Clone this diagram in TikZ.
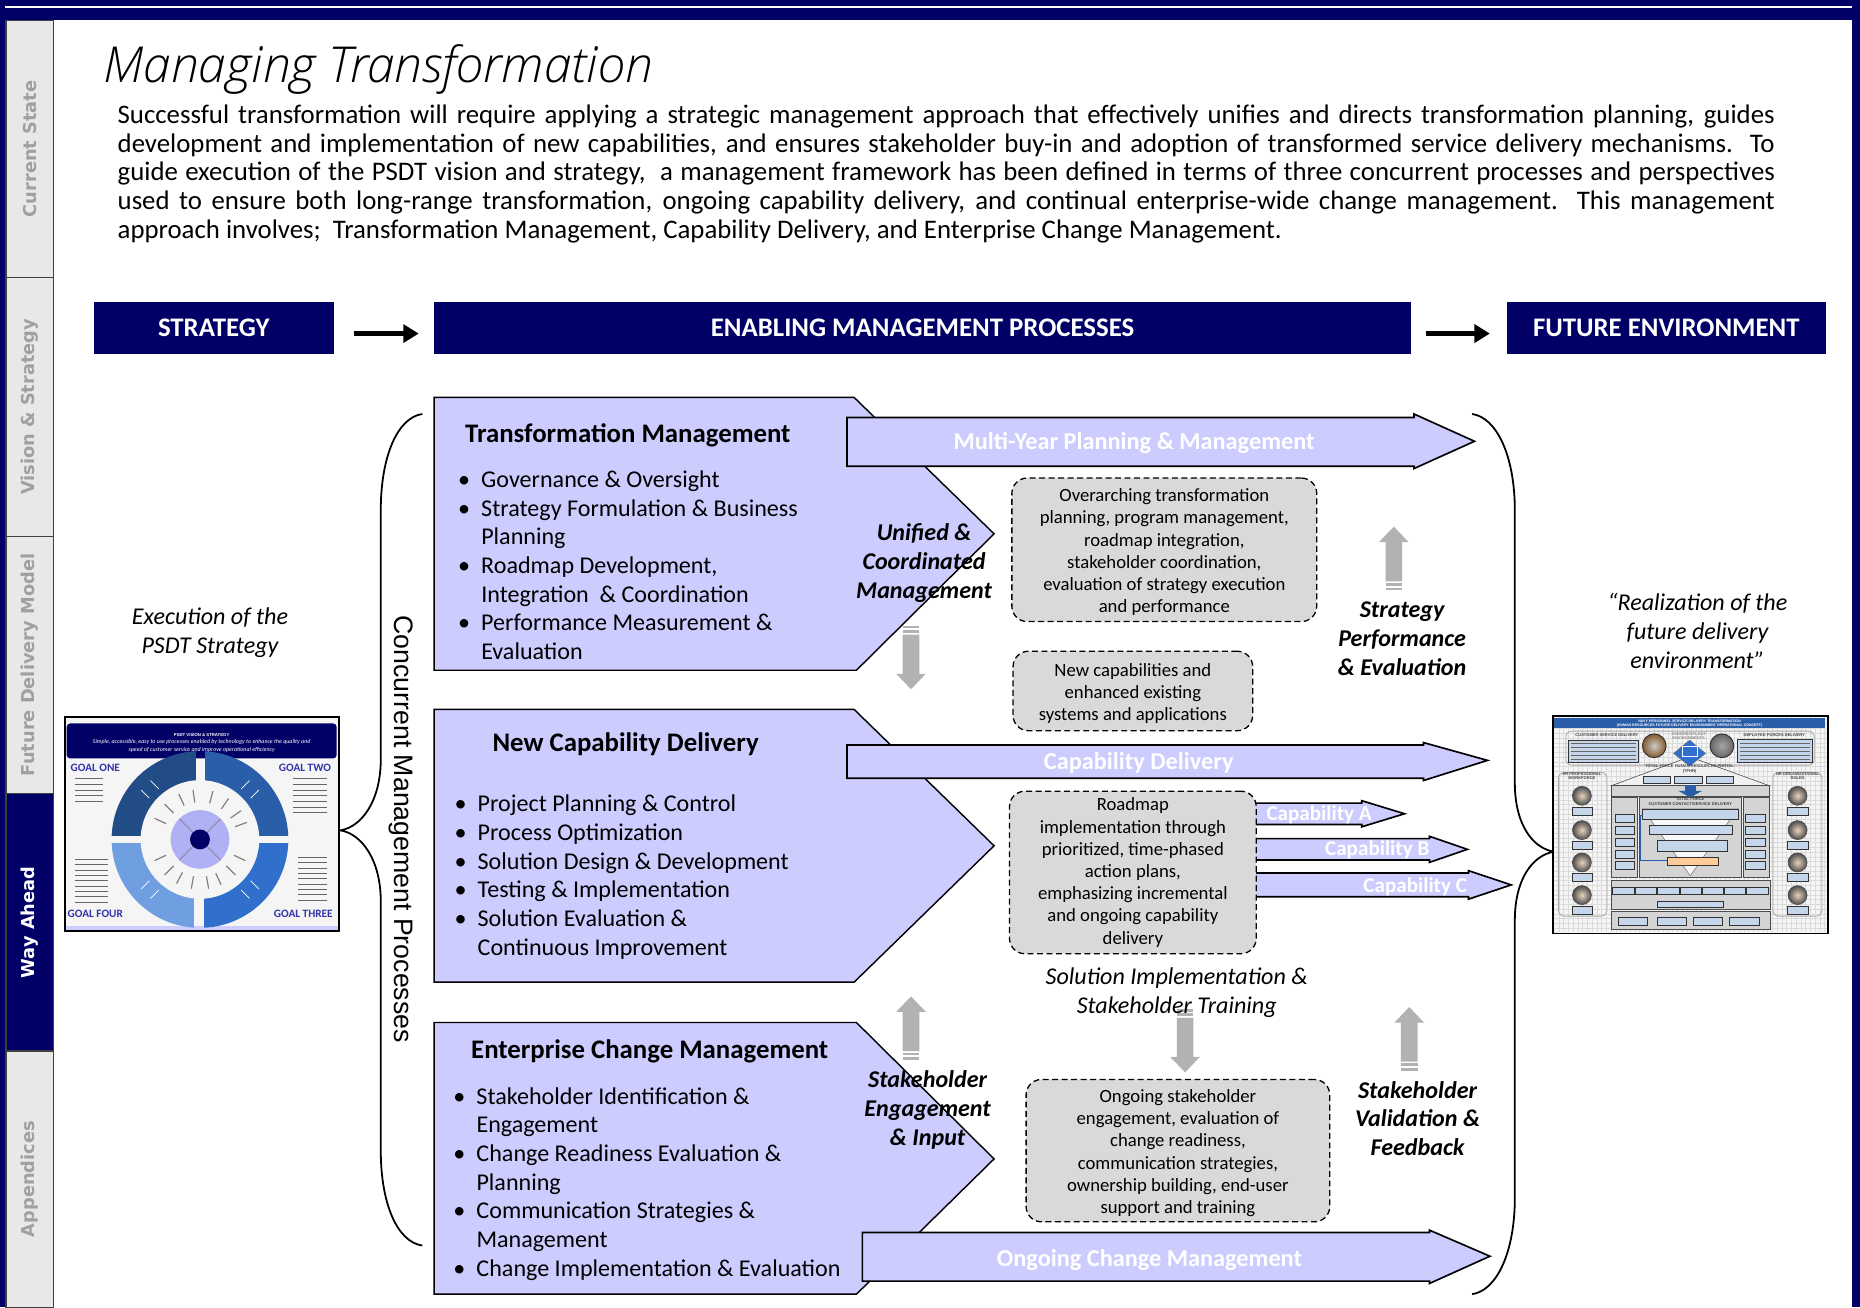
\documentclass[tikz,border=0pt]{standalone}
\usepackage{fontspec}
\setmainfont{Carlito}
\newfontfamily\arialf{Liberation Sans}
\newfontfamily\titlef{Open Sans Light}[ItalicFont={Open Sans Light Italic}]
\newfontfamily\tabf{DejaVu Sans}
\usetikzlibrary{arrows.meta,calc}
\definecolor{navyb}{HTML}{000066}
\definecolor{lav}{HTML}{CCCCFF}
\definecolor{boxgrey}{HTML}{D9D9D9}
\definecolor{arrgrey}{HTML}{B2B2B2}
\definecolor{tabgrey}{HTML}{E8E8E8}
\definecolor{tabtxt}{HTML}{A0A0A0}
\definecolor{pale}{HTML}{C5D5EA}
\definecolor{segA}{HTML}{224C85}
\definecolor{segB}{HTML}{2A5EA8}
\definecolor{segC}{HTML}{3070CC}
\definecolor{segD}{HTML}{6F9FE0}
\definecolor{goalc}{HTML}{3333AA}
\definecolor{discc}{HTML}{B0B0F5}
\newcommand{\fsz}[2]{\fontsize{#1}{#2}\selectfont}
\newcommand{\bl}[1]{\makebox[19.5pt][l]{\textbullet}#1}
\newcommand{\cn}[1]{\hspace*{19.5pt}#1}
\newcommand{\jl}[1]{\makebox[1397pt][s]{#1}}
\newcommand{\fl}{\rule{0pt}{15pt}}
\newcommand{\grarrow}[3]{\begin{scope}[shift={(#1,#2)},x=1pt,y=#3pt]
  \fill[arrgrey] (0,0)--(12.5,13)--(7,13)--(7,46)--(-7,46)--(-7,13)--(-12.5,13)--cycle;
  \fill[arrgrey] (-7,47.5) rectangle (7,49.7);
  \fill[arrgrey] (-7,51.3) rectangle (7,53.5);
\end{scope}}
\tikzset{
  x=1pt,y=-1pt,
  tabbox/.style={draw=black!75,line width=1pt,fill=tabgrey},
  tablabel/.style={rotate=90,text=tabtxt,font=\tabf\bfseries\fsz{15}{18}},
  headbox/.style={fill=navyb,text=white,font=\bfseries\fsz{22.6}{26},minimum height=44pt,inner sep=0pt,anchor=north west},
  headarrow/.style={line width=4.5pt,black,-{Triangle[length=13pt,width=15pt]}},
  penta/.style={draw=black,line width=1.2pt,fill=lav},
  banner/.style={draw=black,line width=1.4pt,fill=lav},
  bannertext/.style={text=white,font=\bfseries\fsz{20.5}{24},inner sep=0pt},
  captext/.style={text=white,font=\bfseries\fsz{17.8}{21},inner sep=0pt},
  dashbox/.style={draw=black,dash pattern=on 5pt off 3pt,line width=1.1pt,fill=boxgrey,rounded corners=13pt,inner sep=0pt,align=center,font=\fsz{15.75}{18.7}},
  boldit/.style={align=center,inner sep=0pt,font=\bfseries\itshape\fsz{20.3}{24.4}},
  plainit/.style={align=center,inner sep=0pt,font=\itshape\fsz{20.3}{24.4}},
  blocktitle/.style={anchor=west,inner sep=0pt,font=\bfseries\fsz{22.6}{26}},
  blocklist/.style={anchor=north west,inner sep=0pt,align=left,font=\fsz{20.3}{24.2}},
  mini/.style={draw=black!80,line width=.3pt,fill=pale},
  minigrey/.style={draw=black!70,line width=.5pt,fill=black!17},
  miniround/.style={draw=black!35,line width=.7pt,rounded corners=5pt},
  minitxt/.style={inner sep=0pt,align=center,font=\arialf\bfseries\fsz{3.4}{4},text=black!75},
  goaltxt/.style={inner sep=0pt,text=goalc,font=\bfseries\fsz{9.5}{11}},
  fakeline/.style={line width=.7pt,black!60},
}
\begin{document}
\begin{tikzpicture}
\useasboundingbox (0,0) rectangle (1568,1102);
\fill[white] (0,0) rectangle (1568,1102);
% frame
\fill[navyb] (0,0) rectangle (1568,17);
\fill[white] (0,5) rectangle (1568,6.5);
\fill[navyb] (0,0) rectangle (4,1102);
\fill[navyb] (1561,0) rectangle (1568,1102);
% tabs
\draw[tabbox] (5,17) rectangle (45,234);
\draw[tabbox] (5,234) rectangle (45,452);
\draw[tabbox] (5,452) rectangle (45,669);
\draw[tabbox,fill=navyb] (5,669) rectangle (45,886);
\draw[tabbox] (5,886) rectangle (45,1102);
\node[tablabel] (t1) at (25,125.5) {Current State};
\node[tablabel] (t2) at (25,343) {Vision \& Strategy};
\node[tablabel] (t3) at (25,560.5) {Future Delivery Model};
\node[tablabel,text=white] (t4) at (25,777.5) {Way Ahead};
\node[tablabel] (t5) at (25,994) {Appendices};
% title and intro
\node[anchor=west,inner sep=0pt,font=\titlef\itshape\fsz{41.8}{46}] (title) at (87,59) {Managing Transformation};
\node[anchor=north west,inner sep=0pt,align=left,font=\fsz{22.6}{24.25}] (intro) at (99,88) {%
\jl{Successful transformation will require applying a strategic management approach that effectively unifies and directs transformation planning, guides}\\
\jl{development and implementation of new capabilities, and ensures stakeholder buy-in and adoption of transformed service delivery mechanisms.\ \ To}\\
\jl{guide execution of the PSDT vision and strategy,\ \ a management framework has been defined in terms of three concurrent processes and perspectives}\\
\jl{used to ensure both long-range transformation, ongoing capability delivery, and continual enterprise-wide change management.\ \ This management}\\
approach involves;\ \ Transformation Management, Capability Delivery, and Enterprise Change Management.};
% headers
\node[headbox,minimum width=202pt] (hs) at (79,254) {STRATEGY};
\node[headbox,minimum width=823pt] (he) at (366,254) {ENABLING MANAGEMENT PROCESSES};
\node[headbox,minimum width=269pt] (hf) at (1270,254) {FUTURE ENVIRONMENT};
\draw[headarrow] ([xshift=17pt,yshift=-5pt]hs.east) -- ([xshift=-13pt,yshift=-5pt]he.west);
\draw[headarrow] ([xshift=13pt,yshift=-5pt]he.east) -- ([xshift=-14pt,yshift=-5pt]hf.west);
% captions side
\node[plainit] (exec) at (177,533) {Execution of the\\PSDT Strategy};
\node[plainit] (real) at (1431,532) {“Realization of the\\future delivery\\environment”};
% braces
\draw[line width=1.5pt] (356,349) .. controls (335,352) and (321,385) .. (321,430) -- (321,640) .. controls (321,675) and (305,697) .. (287,700) .. controls (305,703) and (321,725) .. (321,760) -- (321,970) .. controls (321,1015) and (335,1047) .. (356,1050);
\draw[line width=1.5pt] (1241,349) .. controls (1262,352) and (1277,385) .. (1277,430) -- (1277,660) .. controls (1277,695) and (1292,715) .. (1310,718) .. controls (1292,721) and (1277,741) .. (1277,776) -- (1277,1010) .. controls (1277,1055) and (1262,1088) .. (1241,1091);
\node[rotate=-90,inner sep=0pt,font=\arialf\fsz{22.5}{26}] (cmp) at (338,699) {Concurrent Management Processes};
% pentagons
\draw[penta] (366,335)--(720,335)--(838,450)--(722,565)--(366,565)--cycle;
\draw[penta] (366,598)--(720,598)--(838,713)--(720,828)--(366,828)--cycle;
\draw[penta] (366,862)--(722,862)--(838,977)--(722,1091)--(366,1091)--cycle;
% banners
\draw[banner] (714,352)--(1192,352)--(1192,349)--(1243,372)--(1192,395)--(1192,393)--(714,393)--cycle;
\draw[banner] (714,628)--(1200,628)--(1200,626)--(1254,641)--(1200,658)--(1200,656)--(714,656)--cycle;
\draw[banner] (727,1039)--(1205,1039)--(1205,1037)--(1256,1059)--(1205,1082)--(1205,1080)--(727,1080)--cycle;
\draw[banner] (1050,677)--(1148,677)--(1148,675)--(1184,686)--(1148,697)--(1148,695)--(1050,695)--cycle;
\draw[banner] (1050,707)--(1205,707)--(1205,705)--(1237,716)--(1205,727)--(1205,725)--(1050,725)--cycle;
\draw[banner] (1050,736)--(1238,736)--(1238,734)--(1274,746)--(1238,758)--(1238,756)--(1050,756)--cycle;
\node[bannertext] (b1) at (956,373.5) {Multi-Year Planning \& Management};
\node[bannertext] (b2) at (960,643) {Capability Delivery};
\node[bannertext] (b3) at (969,1062) {Ongoing Change Management};
\node[captext] (c1) at (1112,686.5) {Capability A};
\node[captext] (c2) at (1161,716.5) {Capability B};
\node[captext] (c3) at (1193,747.5) {Capability C};
% block text
\node[blocktitle] (tmh) at (392,367) {Transformation Management};
\node[blocklist] (tml) at (386,396.5) {\bl{Governance \& Oversight}\\\bl{Strategy Formulation \& Business}\\\cn{Planning}\\\bl{Roadmap Development,}\\\cn{Integration\ \ \& Coordination}\\\bl{Performance Measurement \&}\\\cn{Evaluation}};
\node[blocktitle] (ncdh) at (415,627) {New Capability Delivery};
\node[blocklist] (ncdl) at (383,670) {\bl{Project Planning \& Control}\\\bl{Process Optimization}\\\bl{Solution Design \& Development}\\\bl{Testing \& Implementation}\\\bl{Solution Evaluation \&}\\\cn{Continuous Improvement}};
\node[blocktitle] (ecmh) at (397,886) {Enterprise Change Management};
\node[blocklist] (ecml) at (382,916.5) {\bl{Stakeholder Identification \&}\\\cn{Engagement}\\\bl{Change Readiness Evaluation \&}\\\cn{Planning}\\\bl{Communication Strategies \&}\\\cn{Management}\\\bl{Change Implementation \& Evaluation}};
% dashed boxes
\node[dashbox,minimum width=257pt,minimum height=121pt] (d1) at (981.5,463.5) {\fl Overarching transformation\\planning, program management,\\roadmap integration,\\stakeholder coordination,\\evaluation of strategy execution\\and performance};
\node[dashbox,minimum width=202pt,minimum height=67pt] (d2) at (955,582.5) {\fl New capabilities and\\enhanced existing\\systems and applications};
\node[dashbox,minimum width=208pt,minimum height=137pt] (d3) at (955,735.5) {Roadmap\\implementation through\\prioritized, time-phased\\action plans,\\emphasizing incremental\\and ongoing capability\\delivery};
\node[dashbox,minimum width=256pt,minimum height=120pt] (d4) at (993,970) {\fl Ongoing stakeholder\\engagement, evaluation of\\change readiness,\\communication strategies,\\ownership building, end-user\\support and training};
% grey arrows
\grarrow{1175}{444}{-1}
\grarrow{768}{581}{1}
\grarrow{768}{840}{-1}
\grarrow{999}{904}{1}
\grarrow{1188}{849}{-1}
% italic labels
\node[boldit] (u1) at (779,474.5) {Unified \&\\Coordinated\\Management};
\node[boldit] (u2) at (1182,538.5) {Strategy\\Performance\\\& Evaluation};
\node[plainit] (u3) at (992,837) {Solution Implementation \&\\Stakeholder Training};
\node[boldit] (u4) at (782,935.5) {Stakeholder\\Engagement\\\& Input};
\node[boldit] (u5) at (1195,943) {Stakeholder\\Validation \&\\Feedback};
% left picture
\begin{scope}[shift={(33.7,590.2)},x=.281pt,y=-.281pt]
\fill[black!4] (75,50) rectangle (897,692);
\fill[lav] (78,678) rectangle (893,690);
\fill[navyb,rounded corners=3pt] (80,70) rectangle (890,175);
\node[inner sep=0pt,text=white,font=\arialf\bfseries\fsz{3.6}{4}] (p1) at (485,105) {PSDT VISION \& STRATEGY};
\node[inner sep=0pt,text=white,align=center,font=\itshape\fsz{5}{6.3}] (p2) at (485,137) {Simple, accessible, easy to use processes enabled by technology to enhance the quality and\\speed of customer service and improve operational efficiency};
\begin{scope}
\clip (480,418) circle [radius=74.5pt];
\fill[segA] (200,140) rectangle (468,408);
\fill[segB] (494,140) rectangle (760,408);
\fill[segC] (492,430) rectangle (760,700);
\fill[segD] (200,428) rectangle (463,700);
\end{scope}
\fill[black!4] (480,418) circle [radius=50pt];
\fill[discc] (480,418) circle [radius=24.7pt];
\draw[black!55,line width=.4pt] (418,356)--(542,480) (542,356)--(418,480);
\fill[navyb] (480,418) circle [radius=8.4pt];
\foreach \a in {25,45,65,80,100,118,135,155,205,225,245,262,285,305,325,340}
  \draw[black!50,line width=1pt] ({480+112*cos(\a)},{418+112*sin(\a)}) -- ({480+150*cos(\a)},{418+150*sin(\a)});
\foreach \a in {45,135,225,315}
  {\draw[white,line width=.6pt] ({480+195*cos(\a)-20*sin(\a)},{418+195*sin(\a)+20*cos(\a)}) -- ({480+230*cos(\a)-20*sin(\a)},{418+230*sin(\a)+20*cos(\a)});
   \draw[white,line width=.6pt] ({480+195*cos(\a)+20*sin(\a)},{418+195*sin(\a)-20*cos(\a)}) -- ({480+230*cos(\a)+20*sin(\a)},{418+230*sin(\a)-20*cos(\a)});}
\node[goaltxt] (g1) at (166,203) {GOAL ONE};
\node[goaltxt] (g2) at (795,203) {GOAL TWO};
\node[goaltxt] (g3) at (790,640) {GOAL THREE};
\node[goaltxt] (g4) at (166,640) {GOAL FOUR};
\foreach \y in {235,252,270,287,304} \draw[fakeline] (105,\y)--(190,\y);
\foreach \y in {478,494,510,526,542,558,574,590,606} \draw[fakeline] (105,\y)--(205,\y);
\foreach \y in {235,252,270,287,304,321,338} \draw[fakeline] (760,\y)--(862,\y);
\foreach \y in {472,488,504,520,536,552,568,584,600} \draw[fakeline] (775,\y)--(862,\y);
\draw[black,line width=1.6pt] (75,50) rectangle (897,692);
\end{scope}
% right picture
\begin{scope}[shift={(1290,590.2)},x=.281pt,y=-.281pt]
\fill[black!4] (68,48) rectangle (893,700);
\draw[black!14,line width=.2pt,step=4pt] (72,52) grid (890,696);
\fill[segB] (72,55) rectangle (885,85);
\node[inner sep=0pt,text=white,align=center,font=\arialf\bfseries\fsz{3}{3.8}] (q0) at (478,70) {NAVY PERSONNEL SERVICE DELIVERY TRANSFORMATION\\(HUMAN RESOURCES FUTURE DELIVERY ENVIRONMENT OPERATIONAL CONCEPT)};
\draw[miniround] (107,93) rectangle (852,195);
\draw[miniround] (85,217) rectangle (230,648);
\draw[miniround] (728,217) rectangle (875,648);
\draw[mini] (115,120) rectangle (325,187);
\draw[mini] (622,118) rectangle (845,187);
\node[minitxt] (q1) at (230,106) {CUSTOMER SERVICE DELIVERY};
\node[minitxt] (q2) at (732,106) {DEPLOYED FORCES DELIVERY};
\node[minitxt,text=black!45] (q3) at (475,108) {ASHORE/AFLOAT\\ENVIRONMENTS};
\foreach \y in {130,142,154,166,178} {\draw[fakeline,line width=.4pt] (122,\y)--(318,\y); \draw[fakeline,line width=.4pt] (630,\y)--(838,\y);}
\shade[inner color=black!20,outer color=brown!70!black] (372,137) circle [radius=10pt];
\draw[black!80,line width=.8pt] (372,137) circle [radius=10pt];
\shade[inner color=black!35,outer color=black!60] (575,137) circle [radius=10pt];
\draw[black!80,line width=.8pt] (575,137) circle [radius=10pt];
% roof
\draw[minigrey,fill=black!6] (243,257)--(478,170)--(718,257)--cycle;
\fill[segC,draw=black!60,line width=.3pt] (430,160)--(478,120)--(526,160)--(478,198)--cycle;
\draw[white,line width=.6pt] (455,140) rectangle (500,168);
\node[minitxt] (q4) at (478,207) {TOTAL FORCE HUMAN RESOURCES PORTAL\\(TFHR)};
\draw[mini] (338,228) rectangle (420,250);
\draw[mini] (433,228) rectangle (515,250);
\draw[mini] (527,228) rectangle (610,250);
\draw[minigrey] (243,257) rectangle (718,288);
% columns
\draw[minigrey] (242,292) rectangle (322,532);
\draw[minigrey] (328,292) rectangle (632,532);
\draw[minigrey] (638,292) rectangle (718,532);
\fill[segB] (463,255) rectangle (497,272);
\fill[segB] (444,272)--(516,272)--(480,292)--cycle;
\node[minitxt] (q5) at (480,305) {TOTAL FORCE\\CUSTOMER CONTACT/SERVICE DELIVERY};
\foreach \y in {342,378,414,450,484} {\draw[mini] (255,\y) rectangle (313,\y+24); \draw[mini] (645,\y) rectangle (705,\y+24);}
% funnel
\fill[black!3,draw=black!70,line width=.3pt] (337,325)--(623,325)--(480,527)--cycle;
\draw[mini] (337,328) rectangle (623,356);
\draw[mini] (357,375) rectangle (607,403);
\draw[mini] (382,420) rectangle (590,452);
\draw[mini,fill=orange!40] (410,470) rectangle (563,495);
\draw[segB,line width=.7pt] (337,345)--(330,345)--(330,482)--(410,482);
% lower bands
\draw[minigrey] (242,540) rectangle (720,628);
\foreach \a/\b in {247/313,315/378,380/447,449/513,515/580,582/645,647/713} \draw[mini] (\a,560) rectangle (\b,582);
\draw[mini] (380,604) rectangle (580,622);
\draw[minigrey] (242,634) rectangle (720,688);
\foreach \a/\b in {265/352,380/467,490/577,598/687} \draw[mini] (\a,652) rectangle (\b,676);
% people
\node[minitxt] (q6) at (155,228) {HR PROFESSIONAL\\WORKFORCE};
\node[minitxt] (q7) at (802,228) {HR ORGANIZATIONAL\\ROLES};
\foreach \y in {287,390,487,585}
  {\shade[inner color=brown!35,outer color=black!70] (155,\y) circle [radius=8pt];
   \draw[black!70,line width=.5pt] (155,\y) circle [radius=8pt];
   \draw[mini] (125,\y+33) rectangle (187,\y+57);
   \shade[inner color=brown!35,outer color=black!70] (802,\y) circle [radius=8pt];
   \draw[black!70,line width=.5pt] (802,\y) circle [radius=8pt];
   \draw[mini] (770,\y+33) rectangle (833,\y+57);}
\draw[black,line width=1.6pt] (68,48) rectangle (893,700);
\end{scope}
\end{tikzpicture}
\end{document}
